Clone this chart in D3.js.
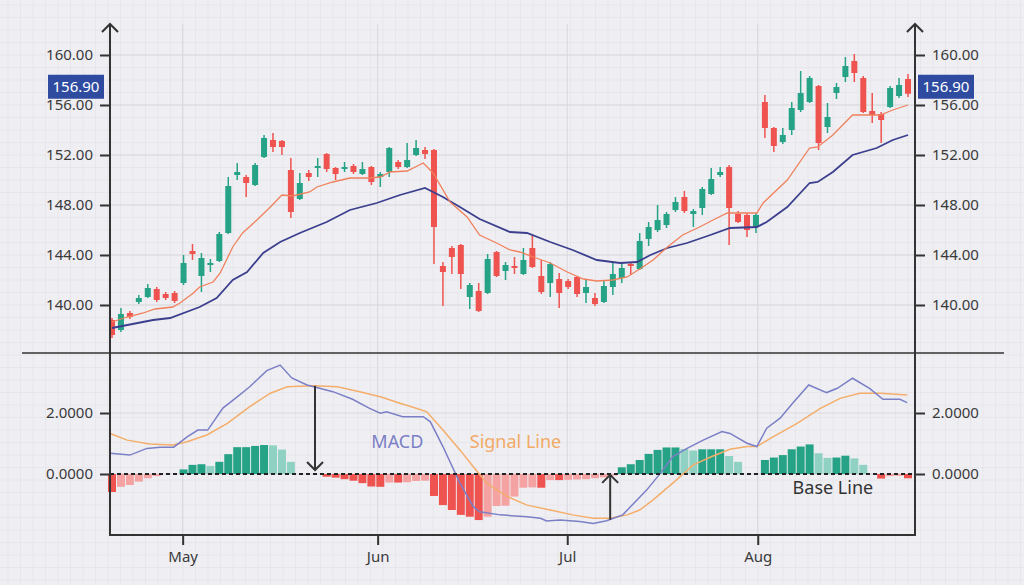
<!DOCTYPE html>
<html>
<head>
<meta charset="utf-8">
<script src="https://cdn.jsdelivr.net/npm/d3@7"></script>
<style>
html, body { margin: 0; padding: 0; background: #efeff3; }
svg { display: block; font-family: "Noto Sans", "Open Sans", sans-serif; }
</style>
</head>
<body>
<div id="chart"></div>
<script>
// ---- data ----
// candles, one per trading day (index 0..89)
const open  = [138.8,138.0,139.36,140.24,140.64,141.28,140.88,140.96,141.76,144.32,142.32,143.2,143.52,145.76,150.4,150.24,149.6,151.84,153.2,153.12,150.8,148.48,150.56,150.96,152.08,150.96,150.88,151.12,150.48,151.04,150.24,150.64,151.44,151.04,152.0,152.4,152.4,143.12,144.56,144.8,140.64,141.12,140.96,144.24,142.72,143.12,142.48,144.56,142.32,141.76,142.08,141.92,142.24,140.96,140.56,140.24,141.44,142.16,143.28,142.88,145.28,146.0,146.4,147.6,148.64,147.28,147.76,148.88,150.4,151.04,147.28,147.2,146.32,156.24,154.16,153.04,154.0,155.6,156.24,157.52,154.24,156.96,158.24,159.52,158.16,155.52,155.28,155.84,156.72,158.08];
const high  = [138.96,139.76,139.52,140.8,141.68,141.44,141.04,141.12,144.0,144.88,144.16,143.68,145.84,150.24,151.36,150.4,151.36,153.6,153.76,153.2,151.76,150.56,150.8,151.76,152.16,151.04,151.44,151.28,151.44,151.12,150.64,152.64,151.6,152.96,153.2,152.64,152.48,143.44,144.72,144.88,141.76,141.76,144.08,144.32,143.44,143.84,144.56,145.6,143.6,143.44,142.56,142.08,142.32,142.08,140.96,142.0,143.36,143.36,143.44,145.76,146.64,148.0,147.44,148.64,149.12,147.68,149.44,150.96,151.04,151.2,147.52,147.36,147.36,156.8,154.24,154.16,156.24,158.72,158.32,157.6,156.16,157.76,159.84,160.08,158.32,156.96,155.44,157.52,158.16,158.48];
const low   = [137.36,137.84,138.88,140.08,140.56,140.24,140.4,140.16,141.6,143.6,141.04,142.64,143.44,145.68,150.0,148.64,149.52,151.76,152.24,152.0,146.96,148.4,149.92,150.24,150.64,150.0,150.64,150.48,150.4,149.6,149.44,150.24,150.88,150.96,151.92,151.68,143.28,139.92,142.48,141.28,139.68,139.44,140.88,142.24,142.0,142.48,142.4,142.96,140.88,140.64,139.76,141.28,140.64,140.16,139.92,140.16,140.8,141.76,142.4,142.8,144.72,145.84,146.16,147.44,147.36,146.24,147.2,148.8,150.24,144.8,146.56,145.44,145.76,153.36,152.24,152.88,153.6,155.44,156.16,152.4,153.76,156.48,157.84,157.84,155.36,154.56,152.96,155.76,156.56,156.64];
const close = [137.6,139.28,139.04,140.56,141.36,140.4,140.56,140.32,143.36,144.08,143.76,143.36,145.68,149.52,150.64,149.76,151.2,153.36,152.64,152.64,147.44,149.76,150.24,151.12,150.88,150.48,151.04,150.64,150.88,149.84,150.48,152.56,151.04,151.6,152.56,152.08,146.24,142.64,143.84,142.48,141.6,139.52,143.68,142.32,143.2,142.96,143.6,143.04,141.04,143.28,140.96,141.44,140.88,141.44,140.08,141.52,142.48,142.96,143.12,145.12,146.24,146.8,147.28,148.24,147.52,147.52,149.28,150.08,150.64,147.76,146.64,146.0,147.2,154.16,152.72,153.6,155.76,156.96,158.16,152.96,155.04,157.44,159.12,158.56,155.44,155.2,154.8,157.36,157.6,156.9];

// moving averages, sampled at (fractional) day index
const maFastIdx = [0,1.7,3.5,4.8,6.8,7.6,9.1,9.8,11.3,12.1,13.5,14.6,16.2,17.7,19.0,20.2,22.1,22.9,24.7,26.6,28.8,30.0,31.1,33.0,34.8,35.9,37.8,39.7,41.1,43.0,44.5,45.6,47.1,49.0,50.9,52.7,54.2,56.0,57.6,59.0,60.5,62.1,63.8,65.7,67.2,68.8,72.1,72.8,75.5,78.0,78.9,80.6,82.8,85.9,87.3,89.0];
const maFast    = [138.64,139.04,139.36,139.68,139.84,140.16,140.96,141.44,141.84,142.56,144.64,145.76,146.8,147.84,148.8,148.72,149.04,149.44,149.84,150.16,150.16,150.24,150.64,150.72,151.36,150.56,148.24,147.04,145.6,144.96,144.4,144.24,143.84,143.36,142.64,142.08,141.92,142.0,142.24,142.88,143.6,144.64,145.6,146.24,146.8,147.36,147.36,148.16,150.0,152.56,152.64,153.6,155.2,155.2,155.6,156.0];
const maSlowIdx = [0,2.3,4.6,6.5,9.8,11.7,13.5,15.1,16.9,18.8,21.0,24.0,26.6,29.6,32.2,35.0,37.0,38.9,41.1,44.5,46.4,49.0,51.5,54.2,56.8,58.7,60.2,62.1,64.3,66.9,69.1,72.1,73.2,75.5,78.0,78.9,80.6,82.8,85.5,87.3,89.0];
const maSlow    = [138.16,138.48,138.8,138.96,139.84,140.56,142.0,142.64,144.16,145.04,145.76,146.64,147.6,148.16,148.8,149.36,148.64,147.84,146.88,145.84,145.76,145.04,144.4,143.6,143.36,143.44,144.0,144.56,144.96,145.6,146.16,146.24,146.64,147.84,149.76,149.84,150.64,152.0,152.56,153.2,153.6];

// MACD panel
const macdIdx = [-0.2,2.0,3.9,5.4,6.9,8.4,9.6,10.7,12.4,14.0,15.4,17.3,18.8,20.1,21.8,24.7,26.9,28.8,30.0,30.7,32.5,34.8,35.6,37.0,38.9,40.4,41.1,43.4,46.4,47.9,48.6,50.1,52.3,53.8,55.3,57.1,58.7,59.8,61.3,62.7,64.3,66.1,68.2,69.1,71.0,72.1,73.2,74.7,76.1,77.9,79.9,81.1,82.8,84.7,86.2,88.1,88.9];
const macd    = [0.68,0.62,0.84,0.88,0.88,1.22,1.44,1.44,2.16,2.53,2.86,3.39,3.57,3.15,2.92,2.70,2.45,2.15,1.99,2.04,1.88,1.88,1.71,0.90,-0.30,-1.07,-1.24,-1.34,-1.40,-1.45,-1.54,-1.51,-1.56,-1.62,-1.53,-1.34,-0.85,-0.52,0.02,0.57,0.84,1.11,1.39,1.33,1.01,0.90,1.50,1.83,2.32,2.92,2.67,2.81,3.14,2.81,2.45,2.45,2.34];
const sigIdx  = [-0.2,1.7,4.2,6.8,8.4,10.6,12.9,15.4,17.7,19.6,22.5,25.2,27.7,30.0,32.2,34.1,35.2,37.0,38.9,40.4,41.9,44.2,46.4,49.0,51.5,53.8,55.7,57.6,59.0,60.5,62.7,65.0,67.2,69.1,71.0,72.1,73.9,76.6,79.2,81.4,83.6,85.9,88.9];
const signal  = [1.33,1.11,0.98,0.95,1.06,1.28,1.66,2.21,2.65,2.86,2.89,2.86,2.70,2.53,2.32,2.15,2.04,1.44,0.79,0.24,-0.30,-0.74,-1.02,-1.18,-1.34,-1.45,-1.45,-1.34,-1.18,-0.85,-0.30,0.30,0.59,0.81,0.90,0.90,1.22,1.66,2.15,2.48,2.65,2.65,2.59];
const hist = [-0.59,-0.42,-0.36,-0.25,-0.14,-0.07,0,0,0.15,0.30,0.32,0.26,0.40,0.65,0.88,0.88,0.92,0.95,0.94,0.80,0.40,0,0,0,
  -0.09,-0.12,-0.17,-0.22,-0.30,-0.41,-0.42,-0.28,-0.28,-0.27,-0.23,-0.22,-0.72,-1.02,-1.18,-1.34,-1.40,-1.51,-1.40,-1.05,-1.04,-0.74,-0.45,-0.44,-0.45,-0.20,-0.20,-0.19,-0.18,-0.17,-0.14,-0.11,-0.05,
  0.22,0.32,0.46,0.66,0.79,0.87,0.87,0.82,0.77,0.81,0.81,0.81,0.59,0.40,0,0,0.46,0.54,0.62,0.81,0.90,0.97,0.68,0.53,0.54,0.60,0.51,0.30,0,-0.15,-0.07,-0.06,-0.14];

// ticks
const priceTicks = [140, 144, 148, 152, 156, 160];
const macdTicks = [0, 2];
const months = ["May", "Jun", "Jul", "Aug"];
const monthIdx = [7.9, 29.7, 50.9, 72.2];

// crossover arrows (day index, from value, to value) and labels
const arrows = [{i: 22.7, from: 2.89, to: 0.13}, {i: 55.7, from: -1.5, to: -0.03}];
const labels = [
  {text: "MACD", i: 29.0, v: 0.85, color: "#7b7fc6"},
  {text: "Signal Line", i: 40.0, v: 0.85, color: "#f2aa66"},
  {text: "Base Line", i: 76.1, v: -0.66, color: "#333"}
];

// ---- layout ----
const W = 1024, H = 585;
const L = 110, R = 915, TOP = 24, BOT = 535, SEP = 353;
const green = "#26a386", red = "#ef5350";

const svg = d3.select("#chart").append("svg").attr("width", W).attr("height", H);

const x = d3.scaleLinear().domain([0, 89]).range([112, 908]);
const yP = d3.scaleLinear().domain([140, 160]).range([305, 55]);
const yM = d3.scaleLinear().domain([0, 2]).range([474, 413]);

svg.append("rect").attr("width", W).attr("height", H).attr("fill", "#efeff3");

// graph-paper grid
const grid = svg.append("g");
grid.selectAll(".mh").data(d3.range(5, H, 12.5)).enter().append("line")
  .attr("x1", 0).attr("x2", W).attr("y1", d => d).attr("y2", d => d)
  .attr("stroke", "#e4e4e9").attr("stroke-width", 0.8);
grid.selectAll(".mv").data(d3.range(8, W, 12.5)).enter().append("line")
  .attr("y1", 0).attr("y2", H).attr("x1", d => d).attr("x2", d => d)
  .attr("stroke", "#e4e4e9").attr("stroke-width", 0.8);
grid.selectAll(".gp").data(priceTicks).enter().append("line")
  .attr("x1", L).attr("x2", R).attr("y1", d => yP(d)).attr("y2", d => yP(d))
  .attr("stroke", "#d7d7dd").attr("stroke-width", 1);
grid.selectAll(".gm").data(macdTicks).enter().append("line")
  .attr("x1", L).attr("x2", R).attr("y1", d => yM(d)).attr("y2", d => yM(d))
  .attr("stroke", "#d7d7dd").attr("stroke-width", 1);
grid.selectAll(".gx").data(monthIdx).enter().append("line")
  .attr("y1", TOP).attr("y2", BOT).attr("x1", d => x(d)).attr("x2", d => x(d))
  .attr("stroke", "#d7d7dd").attr("stroke-width", 1);

// candles
const candles = open.map((o, i) => ({i, o, h: high[i], l: low[i], c: close[i]}));
const cg = svg.append("g").selectAll("g").data(candles).enter().append("g");
cg.append("line")
  .attr("x1", d => x(d.i)).attr("x2", d => x(d.i))
  .attr("y1", d => yP(d.h)).attr("y2", d => yP(d.l))
  .attr("stroke", d => d.c >= d.o ? green : red).attr("stroke-width", 1.5);
cg.append("rect")
  .attr("x", d => x(d.i) - 3).attr("width", 6)
  .attr("y", d => yP(Math.max(d.o, d.c)))
  .attr("height", d => Math.max(1.5, Math.abs(yP(d.o) - yP(d.c))))
  .attr("fill", d => d.c >= d.o ? green : red);

// moving averages
const lineP = d3.line().x(d => x(d[0])).y(d => yP(d[1]));
svg.append("path").datum(d3.zip(maSlowIdx, maSlow)).attr("d", lineP)
  .attr("fill", "none").attr("stroke", "#3c3f8d").attr("stroke-width", 1.8);
svg.append("path").datum(d3.zip(maFastIdx, maFast)).attr("d", lineP)
  .attr("fill", "none").attr("stroke", "#f0805c").attr("stroke-width", 1.3);

// histogram
const bars = hist.map((v, i) => ({i, v, prev: i > 0 ? hist[i - 1] : 0})).filter(d => d.v !== 0);
svg.append("g").selectAll("rect").data(bars).enter().append("rect")
  .attr("x", d => x(d.i) - 4).attr("width", 8)
  .attr("y", d => yM(Math.max(0, d.v)))
  .attr("height", d => Math.abs(yM(d.v) - yM(0)))
  .attr("fill", d => d.v > 0
    ? (d.v >= d.prev ? "#26a386" : "#8fd1c3")
    : (d.v <= d.prev ? "#ef5350" : "#f4a2a2"));

// MACD and signal
const lineM = d3.line().x(d => x(d[0])).y(d => yM(d[1]));
svg.append("path").datum(d3.zip(sigIdx, signal)).attr("d", lineM)
  .attr("fill", "none").attr("stroke", "#f4ad6a").attr("stroke-width", 1.5);
svg.append("path").datum(d3.zip(macdIdx, macd)).attr("d", lineM)
  .attr("fill", "none").attr("stroke", "#7b7fc6").attr("stroke-width", 1.5);

// base line
svg.append("line").attr("x1", L).attr("x2", R).attr("y1", yM(0)).attr("y2", yM(0))
  .attr("stroke", "#222").attr("stroke-width", 2).attr("stroke-dasharray", "4,3");

// crossover arrows
arrows.forEach(a => {
  const ax = x(a.i), y1 = yM(a.from), y2 = yM(a.to), s = y2 > y1 ? -1 : 1;
  svg.append("line").attr("x1", ax).attr("x2", ax).attr("y1", y1).attr("y2", y2)
    .attr("stroke", "#333").attr("stroke-width", 2);
  svg.append("path").attr("d", `M${ax - 8},${y2 + s * 8}L${ax},${y2}L${ax + 8},${y2 + s * 8}`)
    .attr("fill", "none").attr("stroke", "#333").attr("stroke-width", 2);
});

svg.append("g").selectAll("text").data(labels).enter().append("text")
  .attr("x", d => x(d.i)).attr("y", d => yM(d.v))
  .attr("font-size", 18).attr("fill", d => d.color).text(d => d.text);

// axes
function styleAxis(g) {
  g.select(".domain").remove();
  g.attr("font-size", 15).attr("font-family", "'Noto Sans', 'Open Sans', sans-serif");
  g.selectAll(".tick line").attr("stroke", "#333").attr("stroke-width", 2);
  g.selectAll(".tick text").attr("fill", "#3a3a3a");
}
const fmtP = d3.format(".2f"), fmtM = d3.format(".4f");
svg.append("g").attr("transform", `translate(${L},0)`)
  .call(d3.axisLeft(yP).tickValues(priceTicks).tickFormat(fmtP).tickSize(10).tickPadding(7)).call(styleAxis);
svg.append("g").attr("transform", `translate(${R},0)`)
  .call(d3.axisRight(yP).tickValues(priceTicks).tickFormat(fmtP).tickSize(10).tickPadding(7)).call(styleAxis);
svg.append("g").attr("transform", `translate(${L},0)`)
  .call(d3.axisLeft(yM).tickValues(macdTicks).tickFormat(fmtM).tickSize(10).tickPadding(7)).call(styleAxis);
svg.append("g").attr("transform", `translate(${R},0)`)
  .call(d3.axisRight(yM).tickValues(macdTicks).tickFormat(fmtM).tickSize(10).tickPadding(7)).call(styleAxis);
svg.append("g").attr("transform", `translate(0,${BOT})`)
  .call(d3.axisBottom(x).tickValues(monthIdx).tickFormat((d, i) => months[i]).tickSize(10).tickPadding(6)).call(styleAxis);

// frame lines and axis arrows
const frame = svg.append("g").attr("stroke", "#333").attr("stroke-width", 2).attr("fill", "none");
[L, R].forEach(ax => {
  frame.append("line").attr("x1", ax).attr("x2", ax).attr("y1", TOP).attr("y2", BOT + 1);
  frame.append("path").attr("d", `M${ax - 8},${TOP + 8}L${ax},${TOP}L${ax + 8},${TOP + 8}`);
});
frame.append("line").attr("x1", L).attr("x2", R).attr("y1", BOT).attr("y2", BOT);
frame.append("line").attr("x1", 22).attr("x2", 1004).attr("y1", SEP).attr("y2", SEP).attr("stroke-width", 1.5);

// last price tags
const last = close[close.length - 1];
[{x0: 48}, {x0: 918}].forEach(t => {
  const cy = yP(last) - 7;
  svg.append("rect").attr("x", t.x0).attr("y", cy - 12).attr("width", 56).attr("height", 24).attr("fill", "#2f4b9f");
  svg.append("text").attr("x", t.x0 + 28).attr("y", cy + 5.5).attr("text-anchor", "middle")
    .attr("font-size", 15).attr("fill", "#fff").text(fmtP(last));
});
</script>
</body>
</html>
